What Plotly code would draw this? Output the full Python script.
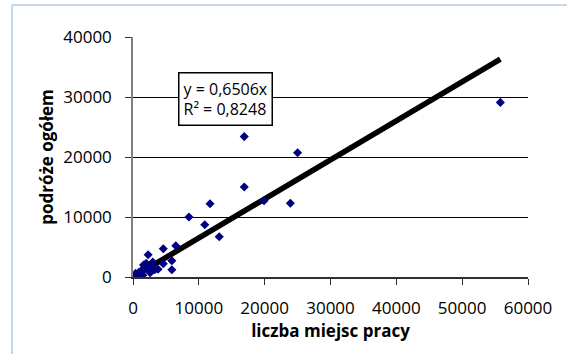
import plotly.graph_objects as go

# data (liczba miejsc pracy, podróże ogółem)
jobs = [55800, 25000, 16900, 16900, 11700, 23900, 19900, 8500, 10900, 13100,
        6500, 4600, 2300, 5900, 4600, 5900, 3800, 2600, 1500,
        3000, 2000, 1800, 1200, 900, 700, 500, 300, 2500, 3300, 1000, 1600, 2800, 400, 200]
trips = [29100, 20700, 23400, 15000, 12200, 12300, 12700, 10000, 8700, 6700,
         5200, 4700, 3700, 2700, 2200, 1200, 1300, 700, 300,
         2500, 2300, 1500, 1000, 800, 500, 300, 200, 1800, 1200, 400, 2000, 1200, 600, 100]
slope = 0.6506
x_max = max(jobs)
trend_x = [0, x_max]
trend_y = [slope * v for v in trend_x]

xticks = [0, 10000, 20000, 30000, 40000, 50000, 60000]
yticks = [0, 10000, 20000, 30000, 40000]

FONT = "Open Sans"
L, R, T, B = 133, 528, 37, 277
W, H = 567, 354

def px(x):
    return (x - L) / (R - L)

def py(y):
    return (B - y) / (B - T)

fig = go.Figure()
fig.add_trace(go.Scatter(x=trend_x, y=trend_y, mode="lines",
                         line=dict(color="black", width=5.5), hoverinfo="skip"))
fig.add_trace(go.Scatter(x=jobs, y=trips, mode="markers",
                         marker=dict(symbol="diamond", size=7, color="#000080")))

fig.update_layout(
    width=W, height=H, showlegend=False,
    margin=dict(l=L, r=W - R, t=T, b=H - B, pad=0),
    paper_bgcolor="white", plot_bgcolor="white",
    font=dict(family=FONT, color="black", size=17),
    xaxis=dict(range=[0, 60000], tickvals=xticks, ticktext=[str(v) for v in xticks],
               showgrid=False, zeroline=False, showline=True, linecolor="#303030",
               linewidth=1.5, ticks="outside", ticklen=6, tickcolor="#303030",
               ticklabelstandoff=9, tickfont=dict(size=17),
               title=dict(text="<b>liczba miejsc pracy</b>", font=dict(size=17), standoff=0)),
    yaxis=dict(range=[0, 40000], tickvals=yticks, ticktext=[str(v) for v in yticks],
               showgrid=True, gridcolor="black", gridwidth=1, zeroline=False,
               showline=True, linecolor="#808080", linewidth=1.5,
               ticks="outside", ticklen=6, tickcolor="#303030",
               ticklabelstandoff=10, tickfont=dict(size=17),
               title=dict(text="<b>podróże ogółem</b>", font=dict(size=17), standoff=5)),
)

# outer chart frame (light blue), partly outside the window
fig.add_shape(type="line", xref="paper", yref="paper", x0=px(12), x1=px(12), y0=py(400), y1=py(5),
              line=dict(color="#c6d6ec", width=2))
fig.add_shape(type="line", xref="paper", yref="paper", x0=px(12), x1=px(600), y0=py(5), y1=py(5),
              line=dict(color="#c6d6ec", width=2))

# equation box
fig.add_annotation(xref="paper", yref="paper", x=px(178), y=py(72), xanchor="left", yanchor="top",
                   text="y = 0,6506x<br>R² = 0,8248", showarrow=False, align="left",
                   font=dict(size=16), bordercolor="black", borderwidth=1.5, borderpad=4,
                   bgcolor="white")

# cut-off title at top
fig.add_annotation(xref="paper", yref="paper", x=px(10), y=py(3), xanchor="left", yanchor="bottom",
                   text="<b><i>(odjazdy i przyjazdy)</i></b>", showarrow=False,
                   font=dict(size=16))

fig.write_html("out.html")
